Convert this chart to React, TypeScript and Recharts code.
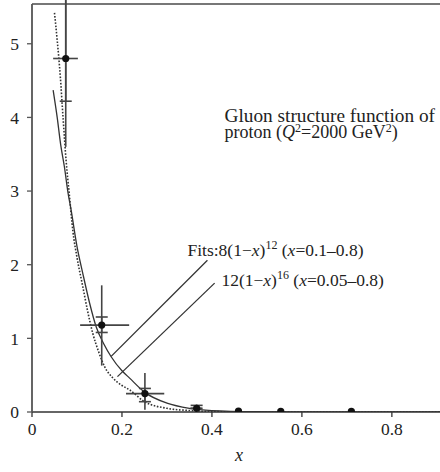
import React from 'react';
import {
  ComposedChart,
  Line,
  Scatter,
  XAxis,
  YAxis,
  ErrorBar,
  ReferenceLine,
  ReferenceDot,
} from 'recharts';

// ---- axes ----
const xTicks = [0, 0.2, 0.4, 0.6, 0.8];
const yTicks = [0, 1, 2, 3, 4, 5];
const xMax = 0.907;
const yMax = 5.54;

// ---- fit 8(1-x)^12 (solid) ----
const solidX = [0.047, 0.056, 0.064, 0.072, 0.08, 0.087, 0.1, 0.113, 0.128, 0.143, 0.16, 0.176, 0.2, 0.217, 0.25, 0.3, 0.35, 0.4, 0.5, 0.6, 0.7, 0.8, 0.907];
const solidY = [4.37, 4.0, 3.62, 3.33, 2.98, 2.74, 2.25, 1.88, 1.48, 1.15, 0.92, 0.75, 0.56, 0.46, 0.27, 0.12, 0.05, 0.02, 0.004, 0, 0, 0, 0];

// ---- fit 12(1-x)^16 (dotted) ----
const dottedX = [0.05, 0.056, 0.063, 0.069, 0.076, 0.083, 0.091, 0.1, 0.113, 0.124, 0.135, 0.148, 0.161, 0.18, 0.2, 0.217, 0.25, 0.3, 0.35, 0.4, 0.5, 0.6, 0.7, 0.8, 0.907];
const dottedY = [5.42, 5.05, 4.55, 4.0, 3.4, 2.95, 2.45, 2.1, 1.7, 1.36, 1.07, 0.82, 0.62, 0.46, 0.36, 0.3, 0.14, 0.05, 0.02, 0.006, 0.001, 0, 0, 0, 0];

// ---- measured points ----
const ptX = [0.075, 0.155, 0.251, 0.366, 0.459, 0.553, 0.71];
const ptY = [4.8, 1.18, 0.25, 0.05, 0.012, 0.01, 0.01];
const ptXLo = [0.047, 0.107, 0.209, 0.352, null, null, null];
const ptXHi = [0.102, 0.216, 0.294, 0.377, null, null, null];
const ptYLo = [3.6, 0.63, 0.03, 0.0, null, null, null];
const ptYHi = [6.5, 1.72, 0.53, 0.1, null, null, null];
const sysLo = [4.22, 1.08, 0.14, 0.05, null, null, null];
const sysHi = [6.5, 1.29, 0.32, 0.09, null, null, null];

// ---- text ----
const fitsLabelA = ['Fits:8(1−', 'x', ')', '12', ' (', 'x', '=0.1–0.8)'];
const fitsLabelB = ['12(1−', 'x', ')', '16', ' (', 'x', '=0.05–0.8)'];
const titleLine1 = 'Gluon structure function of';
const titleLine2 = ['proton (', 'Q', '2', '=2000 GeV', '2', ')'];
const xLabel = 'x';

const solidData = solidX.map((x, i) => ({ x, y: solidY[i] }));
const dottedData = dottedX.map((x, i) => ({ x, y: dottedY[i] }));
const pointData = ptX.map((x, i) => ({
  x,
  y: ptY[i],
  ex: ptXLo[i] == null ? null : [x - (ptXLo[i] as number), (ptXHi[i] as number) - x],
  ey: ptYLo[i] == null ? null : [ptY[i] - (ptYLo[i] as number), (ptYHi[i] as number) - ptY[i]],
  es: sysLo[i] == null ? null : [ptY[i] - (sysLo[i] as number), (sysHi[i] as number) - ptY[i]],
}));

const FONT = '"Liberation Serif", "Times New Roman", serif';
const INK = '#222';
const serif = { fontFamily: FONT };

const FitsA = (p: any) => (
  <text x={p.cx} y={p.cy} style={serif} fontSize={17.5} fill={INK}>
    {fitsLabelA[0]}
    <tspan fontStyle="italic">{fitsLabelA[1]}</tspan>
    {fitsLabelA[2]}
    <tspan dy={-7} fontSize={12}>{fitsLabelA[3]}</tspan>
    <tspan dy={7}>{fitsLabelA[4]}</tspan>
    <tspan fontStyle="italic">{fitsLabelA[5]}</tspan>
    <tspan>{fitsLabelA[6]}</tspan>
  </text>
);

const FitsB = (p: any) => (
  <text x={p.cx} y={p.cy} style={serif} fontSize={17.5} fill={INK}>
    {fitsLabelB[0]}
    <tspan fontStyle="italic">{fitsLabelB[1]}</tspan>
    {fitsLabelB[2]}
    <tspan dy={-7} fontSize={12}>{fitsLabelB[3]}</tspan>
    <tspan dy={7}>{fitsLabelB[4]}</tspan>
    <tspan fontStyle="italic">{fitsLabelB[5]}</tspan>
    <tspan>{fitsLabelB[6]}</tspan>
  </text>
);

const Title = (p: any) => (
  <g>
    <text x={p.cx} y={p.cy} style={serif} fontSize={19.3} fill={INK}>{titleLine1}</text>
    <text x={p.cx} y={p.cy + 16.5} style={serif} fontSize={18} fill={INK}>
      {titleLine2[0]}
      <tspan fontStyle="italic">{titleLine2[1]}</tspan>
      <tspan dy={-6} fontSize={12}>{titleLine2[2]}</tspan>
      <tspan dy={6}>{titleLine2[3]}</tspan>
      <tspan dy={-6} fontSize={12}>{titleLine2[4]}</tspan>
      <tspan dy={6}>{titleLine2[5]}</tspan>
    </text>
  </g>
);

const Dot = (p: any) => <circle cx={p.cx} cy={p.cy} r={3.6} fill="#111" />;

const XTick = (p: any) => (
  <text x={p.x} y={p.y} dy="0.71em" textAnchor="middle" style={serif} fontSize={17.5} fill={INK}>
    {String(p.payload.value)}
  </text>
);

const YTick = (p: any) => (
  <text x={p.x} y={p.y} dy="0.36em" textAnchor="end" style={serif} fontSize={17.5} fill={INK}>
    {String(p.payload.value)}
  </text>
);

const XLabel = (p: any) => {
  const vb = p.viewBox || {};
  return (
    <text x={vb.x + vb.width / 2 + 3} y={vb.y + vb.height - 7} textAnchor="middle" style={serif} fontSize={18} fontStyle="italic" fill={INK}>
      {xLabel}
    </text>
  );
};

const css = 'svg text, svg tspan { font-family: "Liberation Serif", "Times New Roman", serif !important; }';

export default function App() {
  return (
    <div style={{ position: 'absolute', left: 0, top: 0, width: 440, height: 472, background: '#fff', fontFamily: FONT }}>
      <style>{css}</style>
      <ComposedChart width={440} height={472} margin={{ top: 4, right: 0, bottom: 4, left: 0 }}>
        <XAxis
          dataKey="x"
          type="number"
          domain={[0, xMax]}
          ticks={xTicks}
          allowDataOverflow
          height={56}
          tickSize={5}
          tickMargin={6}
          tick={XTick}
          axisLine={{ stroke: '#333', strokeWidth: 1.5 }}
          tickLine={{ stroke: '#333', strokeWidth: 1.3 }}
          label={XLabel}
        />
        <YAxis
          type="number"
          domain={[0, yMax]}
          ticks={yTicks}
          allowDataOverflow
          width={32}
          tickSize={5}
          tickMargin={8}
          tick={YTick}
          axisLine={{ stroke: '#555', strokeWidth: 1.8 }}
          tickLine={{ stroke: '#555', strokeWidth: 1.3 }}
        />
        <ReferenceLine y={yMax} stroke="#777" strokeWidth={2.2} />
        <Line data={solidData} dataKey="y" type="monotone" stroke="#333" strokeWidth={1.3} dot={false} isAnimationActive={false} />
        <Line data={dottedData} dataKey="y" type="monotone" stroke="#333" strokeWidth={1.6} strokeDasharray="1.6 1.6" dot={false} isAnimationActive={false} />
        <Scatter data={pointData} dataKey="y" shape={Dot} isAnimationActive={false}>
          <ErrorBar dataKey="ex" direction="x" width={0} stroke="#444" strokeWidth={1.6} />
          <ErrorBar dataKey="ey" direction="y" width={0} stroke="#444" strokeWidth={1.6} />
          <ErrorBar dataKey="es" direction="y" width={6} stroke="#444" strokeWidth={1.6} />
        </Scatter>
        <ReferenceLine segment={[{ x: 0.176, y: 0.755 }, { x: 0.39, y: 2.06 }]} stroke="#333" strokeWidth={1.3} />
        <ReferenceLine segment={[{ x: 0.19, y: 0.48 }, { x: 0.406, y: 1.75 }]} stroke="#333" strokeWidth={1.3} />
        <ReferenceDot x={0.3456} y={2.116} r={0} shape={FitsA} />
        <ReferenceDot x={0.421} y={1.707} r={0} shape={FitsB} />
        <ReferenceDot x={0.428} y={3.94} r={0} shape={Title} />
      </ComposedChart>
    </div>
  );
}
